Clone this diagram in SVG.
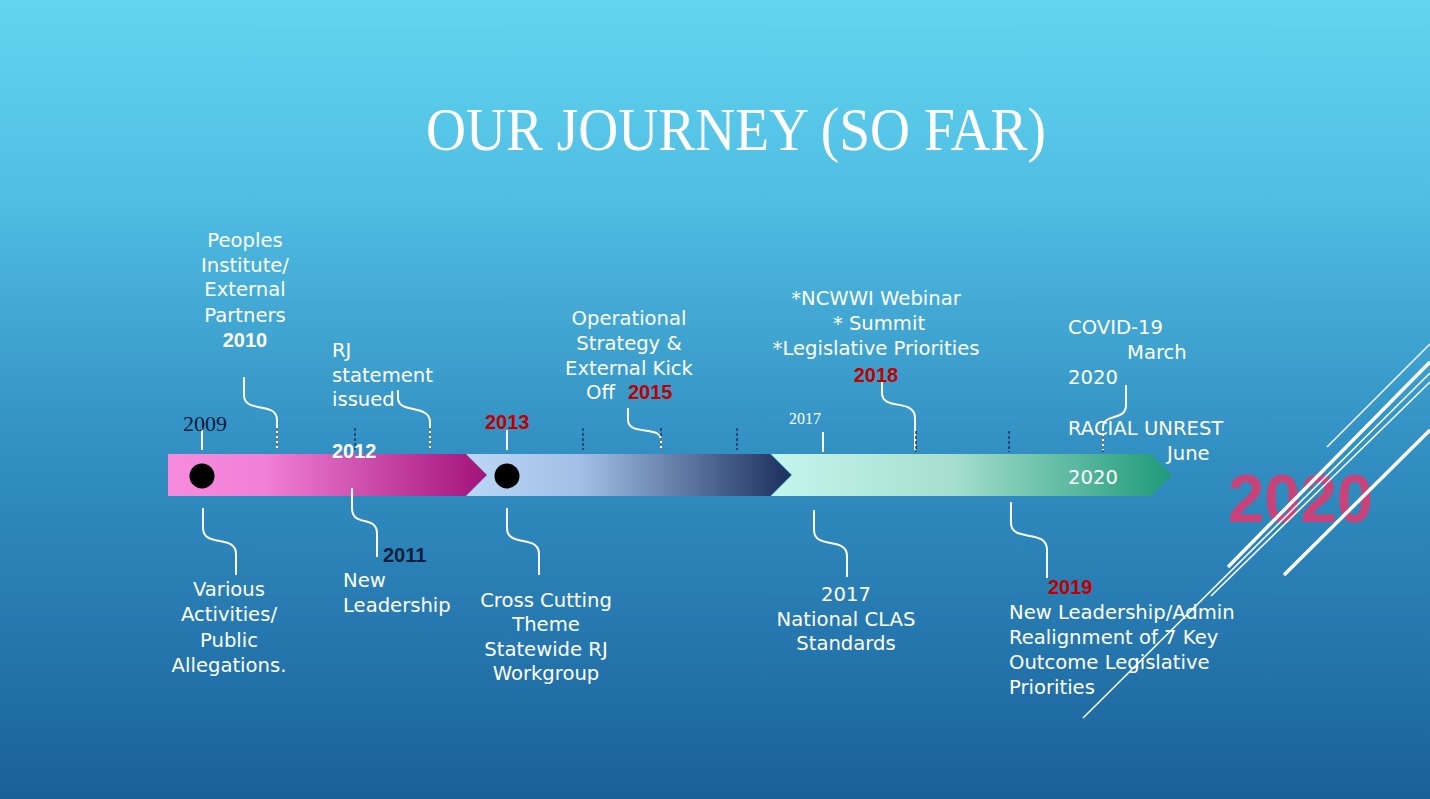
<svg xmlns="http://www.w3.org/2000/svg" width="1430" height="799" viewBox="0 0 1430 799">
<defs>
<linearGradient id="bg" x1="0" y1="0" x2="0" y2="1">
<stop offset="0" stop-color="#62D5F1"/>
<stop offset="0.25" stop-color="#50BDE2"/>
<stop offset="0.55" stop-color="#3391C3"/>
<stop offset="0.8" stop-color="#2577AE"/>
<stop offset="1" stop-color="#1A6098"/>
</linearGradient>
<linearGradient id="gPink" x1="168" y1="0" x2="487" y2="0" gradientUnits="userSpaceOnUse">
<stop offset="0" stop-color="#F68CDD"/>
<stop offset="0.3" stop-color="#F080D6"/>
<stop offset="1" stop-color="#A3127A"/>
</linearGradient>
<linearGradient id="gBlue" x1="466" y1="0" x2="791" y2="0" gradientUnits="userSpaceOnUse">
<stop offset="0" stop-color="#BAD7F6"/>
<stop offset="0.35" stop-color="#A2C0E6"/>
<stop offset="1" stop-color="#1C2F5E"/>
</linearGradient>
<linearGradient id="gGreen" x1="771" y1="0" x2="1172" y2="0" gradientUnits="userSpaceOnUse">
<stop offset="0" stop-color="#C4F6EC"/>
<stop offset="0.45" stop-color="#A6DFCD"/>
<stop offset="1" stop-color="#1E9A78"/>
</linearGradient>
<style>
.t{font-family:"DejaVu Sans","Noto Sans",sans-serif;font-size:19.6px;font-weight:normal;fill:#FFFFFF}
.c{text-anchor:middle}
.b{font-family:"Liberation Sans",Arial,sans-serif;font-size:20px;font-weight:bold}
.w{fill:#FFFFFF}
.r{fill:#C00000}
.n{fill:#0B1E3E}
.s{font-family:"Liberation Serif","Times New Roman",serif}
.con{fill:none;stroke:#FFFFFF;stroke-width:2}
.tick{stroke:#FFFFFF;stroke-width:2}
.dash{stroke:#1B2A4A;stroke-width:1.3;stroke-dasharray:3 2}
.deco{stroke:#FFFFFF;fill:none}
.dot{fill:#000000}
</style>
</defs>
<rect x="0" y="0" width="1430" height="799" fill="url(#bg)"/>

<g id="title">
<text x="426" y="150" font-family="Liberation Serif, Times New Roman, serif" font-size="61" fill="#FFFFFF" textLength="620" lengthAdjust="spacingAndGlyphs">OUR JOURNEY (SO FAR)</text>
</g>

<g id="timeline">
<polygon points="168,454 466,454 487,475 466,496 168,496" fill="url(#gPink)"/>
<polygon points="466,454 770,454 791,475 770,496 466,496 487,475" fill="url(#gBlue)"/>
<polygon points="771,454 1151,454 1172,475 1151,496 771,496 792,475" fill="url(#gGreen)"/>
<circle class="dot" cx="202" cy="476" r="12.5"/>
<circle class="dot" cx="507" cy="476" r="12.5"/>
</g>

<g id="connectors">
<line class="tick" x1="202" y1="428" x2="202" y2="450"/>
<line class="tick" x1="507" y1="430" x2="507" y2="450"/>
<line class="tick" x1="823" y1="432" x2="823" y2="452"/>
<path class="con" d="M244,377 V395 C244,414 277,401 277,420 V450"/>
<path class="con" d="M398,390 V398 C398,414 430,404 430,422 V450"/>
<path class="con" d="M628,408 V420 C628,436 661,425 661,440 V450"/>
<path class="con" d="M882,373 V393 C882,411 915,398 915,418 V450"/>
<path class="con" d="M1126,385 V405 C1126,422 1103,412 1103,428 V450"/>
<line class="dash" x1="277" y1="428" x2="277" y2="450"/>
<line class="dash" x1="355" y1="428" x2="355" y2="450"/>
<line class="dash" x1="430" y1="428" x2="430" y2="450"/>
<line class="dash" x1="583" y1="428" x2="583" y2="450"/>
<line class="dash" x1="661" y1="428" x2="661" y2="450"/>
<line class="dash" x1="737" y1="428" x2="737" y2="450"/>
<line class="dash" x1="916" y1="431" x2="916" y2="452"/>
<line class="dash" x1="1009" y1="431" x2="1009" y2="452"/>
<line class="dash" x1="1103" y1="431" x2="1103" y2="452"/>
<path class="con" d="M203,508 V528 C203,548 236,534 236,554 V575"/>
<path class="con" d="M352,488 V508 C352,528 377,514 377,534 V557"/>
<path class="con" d="M507,508 V528 C507,548 539,534 539,554 V575"/>
<path class="con" d="M814,510 V530 C814,550 847,536 847,556 V577"/>
<path class="con" d="M1011,502 V523 C1011,543 1047,528 1047,550 V578"/>
</g>

<g id="n2009"><text class="s" x="183" y="431" font-size="22" fill="#0E1A3A">2009</text></g>

<g id="n2010">
<text class="t c" x="245" y="247">Peoples</text>
<text class="t c" x="245" y="272">Institute/</text>
<text class="t c" x="245" y="296">External</text>
<text class="t c" x="245" y="322">Partners</text>
<text class="b w" x="245" y="347" text-anchor="middle">2010</text>
</g>

<g id="n2012">
<text class="t" x="332" y="357">RJ</text>
<text class="t" x="332" y="382">statement</text>
<text class="t" x="332" y="406">issued</text>
<text class="b w" x="332" y="458">2012</text>
</g>

<g id="n2013"><text class="b r" x="485" y="429">2013</text></g>

<g id="n2015">
<text class="t c" x="629" y="325">Operational</text>
<text class="t c" x="629" y="350">Strategy &amp;</text>
<text class="t c" x="629" y="375">External Kick</text>
<text class="t" x="586" y="399">Off</text>
<text class="b r" x="628" y="399">2015</text>
</g>

<g id="n2017top"><text class="s" x="789" y="424" font-size="16" fill="#FFFFFF">2017</text></g>

<g id="n2018">
<text class="t c" x="876" y="305">*NCWWI Webinar</text>
<text class="t c" x="879" y="330">* Summit</text>
<text class="t c" x="876" y="355">*Legislative Priorities</text>
<text class="b r" x="876" y="382" text-anchor="middle">2018</text>
</g>

<g id="n2020">
<text class="t" x="1068" y="334">COVID-19</text>
<text class="t" x="1127" y="359">March</text>
<text class="t" x="1068" y="384">2020</text>
<text class="t" x="1068" y="435">RACIAL UNREST</text>
<text class="t" x="1167" y="460">June</text>
<text class="t" x="1068" y="484">2020</text>
</g>

<g id="n2009b">
<text class="t c" x="229" y="596">Various</text>
<text class="t c" x="229" y="621">Activities/</text>
<text class="t c" x="229" y="647">Public</text>
<text class="t c" x="229" y="672">Allegations.</text>
</g>

<g id="n2011">
<text class="b n" x="383" y="562">2011</text>
<text class="t" x="343" y="587">New</text>
<text class="t" x="343" y="612">Leadership</text>
</g>

<g id="n2013b">
<text class="t c" x="546" y="607">Cross Cutting</text>
<text class="t c" x="546" y="631">Theme</text>
<text class="t c" x="546" y="656">Statewide RJ</text>
<text class="t c" x="546" y="680">Workgroup</text>
</g>

<g id="n2017b">
<text class="t c" x="846" y="601">2017</text>
<text class="t c" x="846" y="626">National CLAS</text>
<text class="t c" x="846" y="650">Standards</text>
</g>

<g id="n2019">
<text class="b r" x="1048" y="594">2019</text>
<text class="t" x="1009" y="619">New Leadership/Admin</text>
<text class="t" x="1009" y="644">Realignment of  7 Key</text>
<text class="t" x="1009" y="669">Outcome Legislative</text>
<text class="t" x="1009" y="694">Priorities</text>
</g>

<g id="big2020">
<text x="1228" y="522" font-family="Liberation Sans, Arial, sans-serif" font-size="69" font-weight="bold" fill="#C84379" textLength="145" lengthAdjust="spacingAndGlyphs">2020</text>
</g>

<g id="decoration">
<line class="deco" x1="1327" y1="447" x2="1430" y2="344" stroke-width="1.5"/>
<line class="deco" x1="1228" y1="567" x2="1430" y2="362" stroke-width="3.5"/>
<line class="deco" x1="1083" y1="718" x2="1430" y2="373" stroke-width="1.5"/>
<line class="deco" x1="1211" y1="596" x2="1430" y2="382" stroke-width="1.5"/>
<line class="deco" x1="1284" y1="575" x2="1430" y2="430" stroke-width="3.5"/>
</g>
</svg>
